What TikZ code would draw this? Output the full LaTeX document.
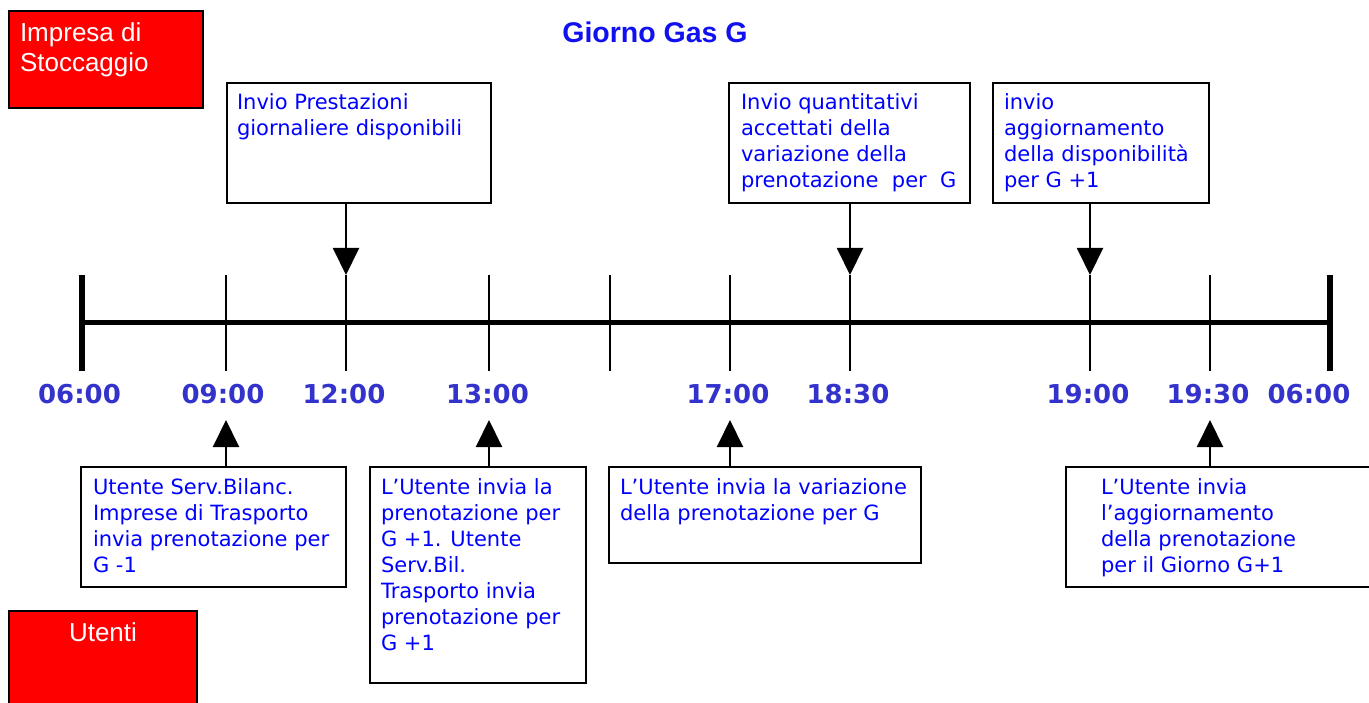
\documentclass[tikz,border=0pt]{standalone}
\usepackage{fontspec}
\setmainfont{DejaVu Sans}
\newfontfamily\arialf{Liberation Sans}
\usetikzlibrary{arrows.meta}
\definecolor{txtblue}{RGB}{0,0,255}
\definecolor{timeblue}{RGB}{51,51,204}
\definecolor{titleblue}{RGB}{16,16,240}
\newcommand\verd{\fontsize{21}{26}\selectfont}
\newcommand\tline[1]{\mbox{#1}}
\newcommand\btext[3]{\parbox[t][#1][t]{#2}{\verd\color{txtblue}\strut#3}}
\tikzset{
  box/.style={draw=black, line width=2pt, anchor=north west, inner ysep=8.8pt, outer sep=0pt},
  redbox/.style={draw=black, fill=red, line width=2pt, anchor=north west, outer sep=0pt},
  tick/.style={line width=2pt},
  endtick/.style={line width=6pt},
  axis/.style={line width=5pt},
  arr/.style={line width=2pt, -{Triangle[length=27pt,width=26pt]}},
  tl/.style={anchor=base, text=timeblue, font=\bfseries\fontsize{26}{30}\selectfont, inner sep=0pt}
}
\begin{document}
\begin{tikzpicture}[x=1pt,y=-1pt]
\useasboundingbox (0,0) rectangle (1369,703);

% red boxes
\node[redbox, inner xsep=11pt, inner ysep=10pt] (R1) at (9,11)
  {\parbox[t][77pt][t]{172pt}{\arialf\fontsize{26}{29.5}\selectfont\color{white}\strut Impresa di\\Stoccaggio}};
\node[redbox, inner xsep=10pt, inner ysep=9pt] (R2) at (9,611)
  {\parbox[t][112pt][t]{168pt}{\centering\arialf\fontsize{26}{30}\selectfont\color{white}\strut Utenti}};

% title
\node[anchor=base, inner sep=0pt, font=\arialf\bfseries\fontsize{28.5}{34}\selectfont, text=titleblue] (T) at (655,43) {Giorno Gas G};

% timeline
\coordinate (L) at (82,323);
\coordinate (R) at (1330,323);
\draw[axis] (L) -- (R);
\coordinate (Ltop) at (82,275); \coordinate (Lbot) at (82,371);
\coordinate (Rtop) at (1330,275); \coordinate (Rbot) at (1330,371);
\draw[endtick] (Ltop) -- (Lbot);
\draw[endtick] (Rtop) -- (Rbot);
\foreach \n/\x in {09/226, 12/346, 13/489, m/610, 17/730, 1830/850, 19/1090, 1930/1210} {
  \coordinate (top\n) at (\x,275);
  \coordinate (bot\n) at (\x,371);
  \draw[tick] (top\n) -- (bot\n);
}

% time labels
\node[tl] (l0600a) at (79.5,403) {06:00};
\node[tl] (l0900) at (223,403) {09:00};
\node[tl] (l1200) at (344,403) {12:00};
\node[tl] (l1300) at (487.5,403) {13:00};
\node[tl] (l1700) at (728,403) {17:00};
\node[tl] (l1830) at (848,403) {18:30};
\node[tl] (l1900) at (1088,403) {19:00};
\node[tl] (l1930) at (1208,403) {19:30};
\node[tl] (l0600b) at (1309,403) {06:00};

% top boxes
\node[box, inner xsep=10pt] (A) at (227,83)
  {\btext{102.4pt}{244pt}{\tline{Invio Prestazioni}\\\tline{giornaliere disponibili}}};
\node[box, inner xsep=12pt] (B) at (729,83)
  {\btext{102.4pt}{217pt}{\tline{Invio quantitativi}\\\tline{accettati della}\\\tline{variazione della}\\\tline{prenotazione\ \ per\ \ G}}};
\node[box, inner xsep=11pt] (C) at (993,83)
  {\btext{102.4pt}{194pt}{\tline{invio}\\\tline{aggiornamento}\\\tline{della disponibilità}\\\tline{per G +1}}};

% bottom boxes
\node[box, inner xsep=12pt] (D) at (81,467)
  {\btext{102.4pt}{241pt}{\tline{Utente Serv.Bilanc.}\\\tline{Imprese di Trasporto}\\\tline{invia prenotazione per}\\\tline{G -1}}};
\node[box, inner xsep=11pt] (E) at (370,467)
  {\btext{198.4pt}{194pt}{\tline{L’Utente invia la}\\\tline{prenotazione per}\\\tline{G +1. Utente}\\\tline{Serv.Bil.}\\\tline{Trasporto invia}\\\tline{prenotazione per}\\\tline{G +1}}};
\node[box, inner xsep=11pt] (F) at (609,467)
  {\btext{78.4pt}{290pt}{\tline{L’Utente invia la variazione}\\\tline{della prenotazione per G}}};
\node[box, inner xsep=35pt] (G) at (1066,467)
  {\btext{102.4pt}{264pt}{\tline{L’Utente invia}\\\tline{l’aggiornamento}\\\tline{della prenotazione}\\\tline{per il Giorno G+1}}};

% arrows from top boxes down to the timeline
\draw[arr] (A.south -| top12) -- (top12);
\draw[arr] (B.south -| top1830) -- (top1830);
\draw[arr] (C.south -| top19) -- (top19);

% arrows from bottom boxes up
\coordinate (up09) at (226,420);
\coordinate (up13) at (489,420);
\coordinate (up17) at (730,420);
\coordinate (up1930) at (1210,420);
\draw[arr] (D.north -| up09) -- (up09);
\draw[arr] (E.north -| up13) -- (up13);
\draw[arr] (F.north -| up17) -- (up17);
\draw[arr] (G.north -| up1930) -- (up1930);
\end{tikzpicture}
\end{document}
